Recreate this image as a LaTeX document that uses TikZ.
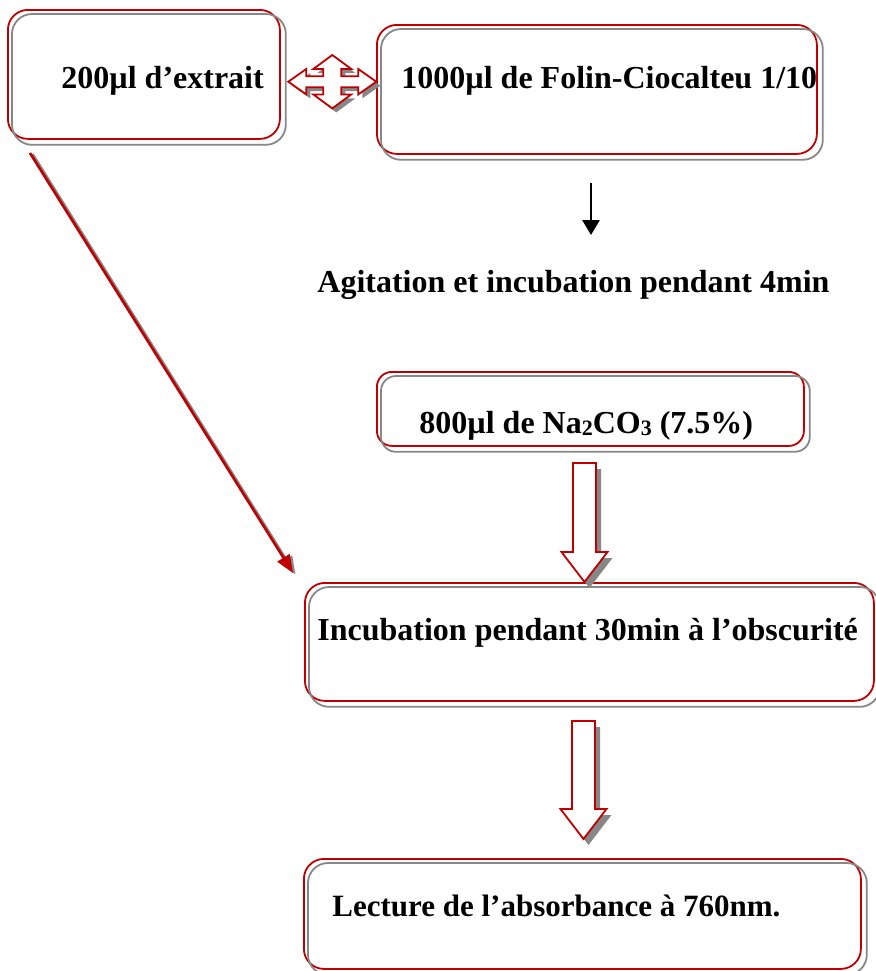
\documentclass[tikz,border=0pt]{standalone}
\usepackage{fontspec}
\setmainfont{Liberation Serif}
\usetikzlibrary{arrows.meta,calc}
\definecolor{wred}{RGB}{192,0,0}
\definecolor{wgray}{RGB}{135,135,135}
\newcommand\subnum[1]{\raisebox{-1.2pt}{\fontsize{11}{12}\selectfont #1}}
\begin{document}
\begin{tikzpicture}[x=0.5pt,y=-0.5pt,
  box/.style={draw=wred, line width=0.9pt, rounded corners=10pt, inner sep=0pt, anchor=north west},
  boxshade/.style={draw=wgray, line width=0.9pt, rounded corners=10pt},
  label/.style={anchor=base west, inner sep=0pt, font=\fontsize{16}{19}\selectfont\bfseries},
  blockfill/.style={draw=wred, line width=0.9pt, fill=white, line join=miter},
  blockshade/.style={fill=wgray, draw=none},
  diagtip/.style={-{Triangle[width=7pt,length=9pt]}},
]
\useasboundingbox (0,0) rectangle (875,971);

% boxes
\node[box, minimum width=136pt, minimum height=64.5pt] (b1) at (7,9) {};
\node[box, minimum width=220pt, minimum height=64.5pt] (b2) at (376,24) {};
\node[box, minimum width=213.5pt, minimum height=37pt, rounded corners=7.5pt] (b3) at (376,371) {};
\node[box, minimum width=284.5pt, minimum height=59pt] (b4) at (304,582) {};
\node[box, minimum width=278.5pt, minimum height=55pt] (b5) at (303,858) {};

\foreach \b in {b1,b2,b4,b5}{
  \draw[boxshade] ($(\b.north west)+(5,5)$) rectangle ($(\b.south east)+(5,5)$);
}
\draw[boxshade, rounded corners=7.5pt] ($(b3.north west)+(5,5)$) rectangle ($(b3.south east)+(5,5)$);

% texts
\node[label] (t1) at (61,88) {200µl d’extrait};
\node[label] (t2) at (401,88) {1000µl de Folin-Ciocalteu 1/10};
\node[label] (t3) at (317,292) {Agitation et incubation pendant 4min};
\node[label] (t4) at (419,433) {800µl de Na\subnum{2}CO\subnum{3} (7.5\%)};
\node[label] (t5) at (317,640) {Incubation pendant 30min à l’obscurité};
\node[label, font=\fontsize{15.5}{19}\selectfont\bfseries] (t6) at (332,916) {Lecture de l’absorbance à 760nm.};

% quad arrow between b1 and b2
\coordinate (q) at (332.3,81.7);
\def\quadpath{(0,-26.7) -- (19,-12.7) -- (9,-12.7) -- (9,-5.5) -- (26,-5.5) -- (26,-12.7) -- (44,0) -- (26,12.7) -- (26,5.5) -- (9,5.5) -- (9,12.7) -- (19,12.7) -- (0,26.7) -- (-19,12.7) -- (-9,12.7) -- (-9,5.5) -- (-26,5.5) -- (-26,12.7) -- (-44,0) -- (-26,-12.7) -- (-26,-5.5) -- (-9,-5.5) -- (-9,-12.7) -- (-19,-12.7) -- cycle}
\begin{scope}[shift={($(q)+(4,4)$)}]
  \fill[wgray] \quadpath;
\end{scope}
\begin{scope}[shift={(q)}]
  \draw[blockfill] \quadpath;
\end{scope}

% black arrow from b2 down to the agitation text
\coordinate (k1) at (591,183);
\coordinate (k2) at (591,235);
\draw[line width=1.4pt, -{Triangle[width=8.5pt,length=7.5pt]}] (k1) -- (k2);

% diagonal red arrow from b1 to b4
\coordinate (d1) at (30,153);
\coordinate (d2) at (293,573);
\draw[wgray, line width=1.3pt, diagtip] ($(d1)+(2.5,1)$) -- ($(d2)+(2.5,1.5)$);
\draw[wred, line width=1.3pt, diagtip] (d1) -- (d2);

% hollow block arrows
\newcommand\hollowarrow[3]{% #1 top-center, #2 tip, #3 style
  \path[#3] ($(#1)+(-11.5,0)$) -- ($(#1)+(11.5,0)$) -- ($(#2)+(11.5,-30)$) -- ($(#2)+(23,-30)$) -- (#2) -- ($(#2)+(-23,-30)$) -- ($(#2)+(-11.5,-30)$) -- cycle;}
\coordinate (h1s) at (584.5,463);
\coordinate (h1e) at (584.5,582);
\coordinate (h2s) at (583.5,721);
\coordinate (h2e) at (583.5,839);
\coordinate (h1ss) at (589.5,469);
\coordinate (h1es) at (589.5,588);
\coordinate (h2ss) at (588.5,727);
\coordinate (h2es) at (588.5,845);
\hollowarrow{h1ss}{h1es}{blockshade}
\hollowarrow{h1s}{h1e}{blockfill}
\hollowarrow{h2ss}{h2es}{blockshade}
\hollowarrow{h2s}{h2e}{blockfill}
\end{tikzpicture}
\end{document}
